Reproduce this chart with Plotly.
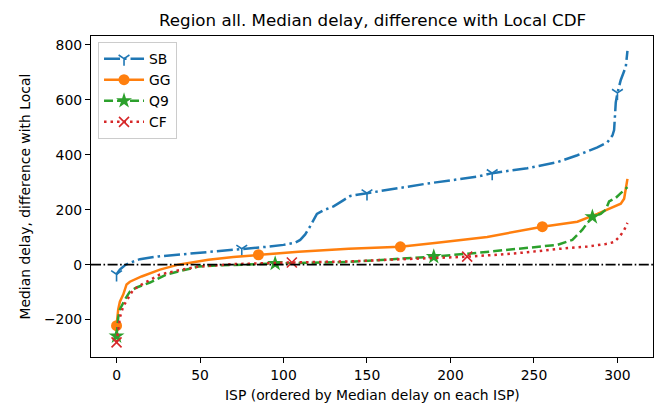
import plotly.graph_objects as go

# ---- data ----
SB_x = [0, 2, 5, 8, 14, 25, 40, 50, 60, 75, 90, 100, 107, 110, 113, 116, 118, 120, 124, 130, 136, 140, 150, 160, 170, 186, 204, 216, 225, 246, 264, 276, 288, 294, 297, 298, 299, 300, 302, 304, 305, 306]
SB_y = [-35, -18, -2, 7, 20, 30, 38, 43, 50, 58, 65, 72, 80, 90, 110, 140, 160, 185, 198, 212, 235, 250, 260, 270, 280, 295, 310, 320, 333, 351, 373, 398, 427, 445, 470, 490, 590, 625, 672, 700, 720, 778]
SB_marks = [0, 75, 150, 225, 300]

GG_x = [0, 1, 2, 4, 6, 8, 15, 26, 37, 49, 55, 70, 85, 109, 139, 170, 192, 207, 222, 255, 276, 288, 295, 302, 304, 305, 306]
GG_y = [-222, -163, -135, -109, -72, -62, -43, -18, 0, 11, 18, 28, 36, 47, 58, 65, 80, 90, 101, 138, 156, 185, 205, 222, 240, 270, 312]
GG_marks = [0, 85, 170, 255]

Q9_x = [0, 1, 2, 5, 8, 12, 20, 30, 39, 49, 60, 85, 95, 139, 170, 190, 216, 246, 264, 273, 279, 282, 285, 290, 293, 295, 299, 302, 306]
Q9_y = [-260, -192, -163, -127, -98, -83, -65, -36, -22, -7, -3, 2, 4, 10, 22, 29, 43, 62, 72, 90, 127, 152, 174, 185, 200, 230, 243, 260, 282]
Q9_marks = [0, 95, 190, 285]

CF_x = [0, 1, 2, 4, 7, 10, 16, 26, 36, 49, 70, 91, 105, 139, 170, 190, 210, 230, 246, 264, 282, 293, 298, 301, 304, 306]
CF_y = [-283, -235, -192, -152, -120, -91, -69, -36, -22, -7, 2, 6, 8, 12, 19, 24, 29, 37, 45, 57, 66, 75, 82, 100, 125, 152]
CF_marks = [0, 105, 210]

x_ticks = [0, 50, 100, 150, 200, 250, 300]
y_ticks = [-200, 0, 200, 400, 600, 800]

series = [
    ("SB", SB_x, SB_y, SB_marks, "#1f77b4", "16px,4px,2.5px,4px", "y-down-open", 9),
    ("GG", GG_x, GG_y, GG_marks, "#ff7f0e", "solid", "circle", 11),
    ("Q9", Q9_x, Q9_y, Q9_marks, "#2ca02c", "9px,4px", "star", 12),
    ("CF", CF_x, CF_y, CF_marks, "#d62728", "2.5px,4px", "x-thin-open", 10),
]

FONT = "DejaVu Sans"
fig = go.Figure()

for name, xs, ys, marks, color, dash, sym, msize in series:
    lookup = dict(zip(xs, ys))
    marker = dict(symbol=sym, size=msize, color=color,
                  line=dict(color=color, width=1.6 if "open" in sym else 0))
    fig.add_trace(go.Scatter(x=xs, y=ys, mode="lines", legendgroup=name, showlegend=False,
                             line=dict(color=color, width=2.5, dash=dash), hoverinfo="skip"))
    fig.add_trace(go.Scatter(x=marks, y=[lookup[m] for m in marks], mode="markers",
                             legendgroup=name, showlegend=False, marker=marker, hoverinfo="skip"))
    fig.add_trace(go.Scatter(x=[None], y=[None], mode="lines+markers", name=name, legendgroup=name,
                             line=dict(color=color, width=2.5, dash=dash), marker=marker))

# zero reference line
fig.add_shape(type="line", xref="paper", yref="y", x0=0, x1=1, y0=0, y1=0,
              line=dict(color="black", width=1.7, dash="10px,2.5px,1.6px,2.5px"))

axis_common = dict(showgrid=False, zeroline=False, showline=True, mirror=True,
                   linecolor="black", linewidth=1.2, ticks="outside", ticklen=5,
                   tickwidth=1.2, tickcolor="black",
                   tickfont=dict(family=FONT, size=13.9, color="black"))

fig.update_layout(
    width=665, height=407,
    margin=dict(l=91, r=12, t=36, b=50),
    paper_bgcolor="white", plot_bgcolor="white",
    font=dict(family=FONT, size=13.9, color="black"),
    xaxis=dict(range=[-15.3, 321.3], tickvals=x_ticks, **axis_common),
    yaxis=dict(range=[-336, 832], tickvals=y_ticks, **axis_common),
    legend=dict(x=0.0125, y=0.981, xanchor="left", yanchor="top",
                bgcolor="rgba(255,255,255,0.8)", bordercolor="#cccccc", borderwidth=1,
                font=dict(family=FONT, size=13.9, color="black"),
                traceorder="grouped", tracegroupgap=0, itemwidth=40),
    annotations=[
        dict(text="Region all. Median delay, difference with Local CDF", xref="paper", yref="paper",
             x=0.5, y=(357 - 19.5) / 321, xanchor="center", yanchor="middle", showarrow=False,
             font=dict(family=FONT, size=16.7, color="black")),
        dict(text="ISP (ordered by Median delay on each ISP)", xref="paper", yref="paper",
             x=0.5, y=(357 - 395) / 321, xanchor="center", yanchor="middle", showarrow=False,
             font=dict(family=FONT, size=13.9, color="black")),
        dict(text="Median delay, difference with Local", xref="paper", yref="paper",
             x=(24 - 91) / 562, y=0.5, xanchor="center", yanchor="middle", showarrow=False,
             textangle=-90, font=dict(family=FONT, size=13.9, color="black")),
    ],
)

fig.write_html("out.html", config={"displayModeBar": False},
               post_script="document.body.style.margin='0';document.body.style.overflow='hidden';")
